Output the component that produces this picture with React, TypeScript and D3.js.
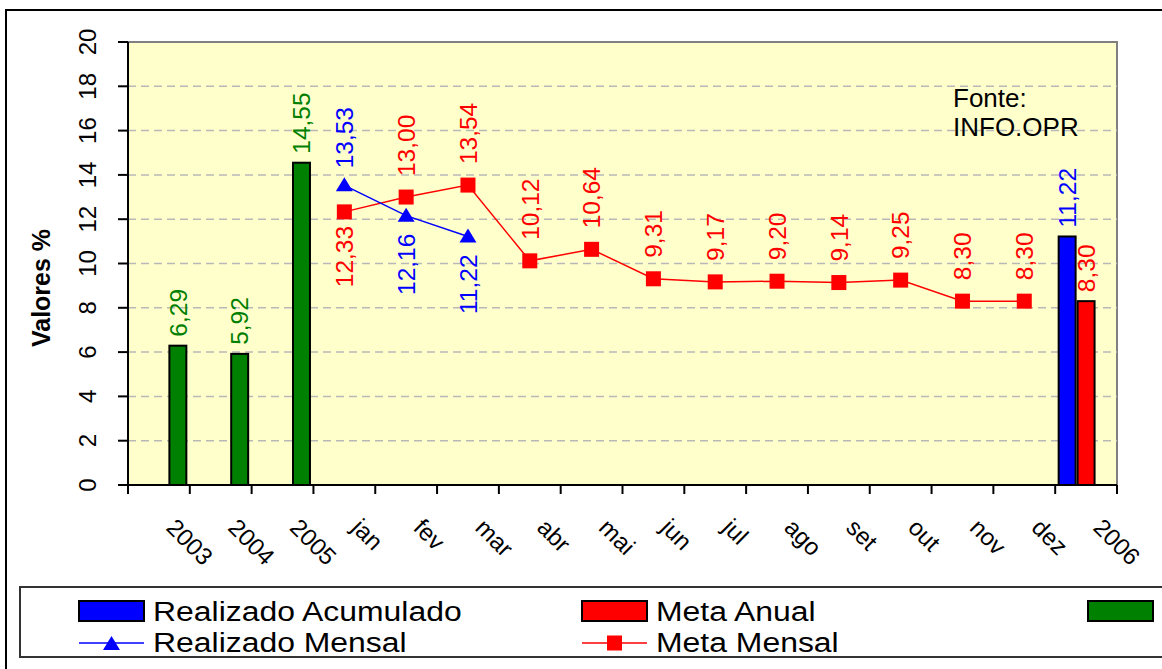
import React from "react";
import * as d3 from "d3";

const categories = ["2003", "2004", "2005", "jan", "fev", "mar", "abr", "mai", "jun", "jul", "ago", "set", "out", "nov", "dez", "2006"];
const yTicks = [0, 2, 4, 6, 8, 10, 12, 14, 16, 18, 20];

// Bar series
const realizadoAnualCats = ["2003", "2004", "2005"];
const realizadoAnual = [6.29, 5.92, 14.55];
const realizadoAcumuladoCats = ["2006"];
const realizadoAcumulado = [11.22];
const metaAnualCats = ["2006"];
const metaAnual = [8.3];

// Line series
const realizadoMensalCats = ["jan", "fev", "mar"];
const realizadoMensal = [13.53, 12.16, 11.22];
const realizadoMensalLabelPos = ["above", "below", "below"];
const metaMensalCats = ["jan", "fev", "mar", "abr", "mai", "jun", "jul", "ago", "set", "out", "nov", "dez"];
const metaMensal = [12.33, 13.0, 13.54, 10.12, 10.64, 9.31, 9.17, 9.2, 9.14, 9.25, 8.3, 8.3];
const metaMensalLabelPos = ["below", "above", "above", "above", "above", "above", "above", "above", "above", "above", "above", "above"];

const legendItems = ["Realizado Acumulado", "Meta Anual", "Realizado Anual", "Realizado Mensal", "Meta Mensal"];

const FONT = "'Liberation Sans', Arial, sans-serif";
const fmt = (v: number) => v.toFixed(2).replace(".", ",");

export default function App() {
  const left = 128, right = 1117, top = 42, bottom = 485;
  const x = d3.scaleBand<string>().domain(categories).range([left, right]).padding(0);
  const y = d3.scaleLinear().domain([0, 20]).range([bottom, top]);
  const inner = d3.scaleBand<string>().domain(["acum", "anual", "green"]).range([0, x.bandwidth()]).paddingInner(0).paddingOuter(0.13);
  const cx = (c: string) => (x(c) as number) + x.bandwidth() / 2;

  const lineGen = d3.line<[number, number]>().x((d) => d[0]).y((d) => d[1]);
  const rmPts: [number, number][] = realizadoMensalCats.map((c, i) => [cx(c), y(realizadoMensal[i])]);
  const mmPts: [number, number][] = metaMensalCats.map((c, i) => [cx(c), y(metaMensal[i])]);

  const bars: { c: string; v: number; s: string; color: string; lc: string }[] = [];
  realizadoAcumuladoCats.forEach((c, i) => bars.push({ c, v: realizadoAcumulado[i], s: "acum", color: "#0000FF", lc: "#0000FF" }));
  metaAnualCats.forEach((c, i) => bars.push({ c, v: metaAnual[i], s: "anual", color: "#FF0000", lc: "#FF0000" }));
  realizadoAnualCats.forEach((c, i) => bars.push({ c, v: realizadoAnual[i], s: "green", color: "#008000", lc: "#008000" }));

  const labelFs = 24.5;
  const capOff = 8.8;
  const tri = (px: number, py: number) => `M${px},${py - 8} L${px + 8.5},${py + 6} L${px - 8.5},${py + 6} Z`;
  const legText = (tx: number, ty: number, s: string) => (
    <text transform={`translate(${tx},${ty}) scale(1.14,1)`} fontSize={28} fill="#000">{s}</text>
  );

  return (
    <svg width={1162} height={669} style={{ position: "absolute", left: 0, top: 0, background: "#fff" }} fontFamily={FONT}>
      {/* outer frame */}
      <rect x={6} y={10} width={1170} height={680} fill="#fff" stroke="#000" strokeWidth={2} />
      {/* plot area */}
      <rect x={left} y={top} width={right - left} height={bottom - top} fill="#FFFFCC" stroke="#808080" strokeWidth={2} />
      {yTicks.filter((t) => t > 0 && t < 20).map((t) => (
        <line key={"g" + t} x1={left} x2={right} y1={y(t)} y2={y(t)} stroke="#B8B8B8" strokeWidth={1.5} strokeDasharray="8,5" />
      ))}
      {/* axes */}
      <line x1={left} x2={left} y1={top} y2={bottom} stroke="#000" strokeWidth={2} />
      <line x1={left} x2={right} y1={bottom} y2={bottom} stroke="#000" strokeWidth={2} />
      {yTicks.map((t) => (
        <g key={"yt" + t}>
          <line x1={left - 10} x2={left} y1={y(t)} y2={y(t)} stroke="#000" strokeWidth={2} />
          <text transform={`translate(96,${y(t)}) rotate(-90)`} textAnchor="middle" fontSize={24} fill="#000">{t}</text>
        </g>
      ))}
      {[...categories.map((c) => x(c) as number), right].map((px, i) => (
        <line key={"xt" + i} x1={px} x2={px} y1={bottom} y2={bottom + 9} stroke="#000" strokeWidth={2} />
      ))}
      {categories.map((c) => (
        <text key={"xl" + c} transform={`translate(${cx(c) + 6},529) rotate(45)`} fontSize={24} fill="#000">{c}</text>
      ))}
      <text transform="translate(50,288) rotate(-90)" textAnchor="middle" fontSize={25} fontWeight="bold" fill="#000">Valores %</text>

      {/* bars */}
      {bars.map((b, i) => {
        const bx = (x(b.c) as number) + (inner(b.s) as number);
        const w = inner.bandwidth();
        return (
          <g key={"b" + i}>
            <rect x={bx + 1} y={y(b.v)} width={w - 2} height={bottom - y(b.v)} fill={b.color} stroke="#000" strokeWidth={2} />
            <text transform={`translate(${bx + w / 2 + capOff},${y(b.v) - 9}) rotate(-90)`} fontSize={labelFs} fill={b.lc}>{fmt(b.v)}</text>
          </g>
        );
      })}

      {/* lines */}
      <path d={lineGen(mmPts) || ""} fill="none" stroke="#FF0000" strokeWidth={1.5} />
      <path d={lineGen(rmPts) || ""} fill="none" stroke="#0000FF" strokeWidth={1.5} />
      {mmPts.map((p, i) => (
        <rect key={"mm" + i} x={p[0] - 7.5} y={p[1] - 7.5} width={15} height={15} fill="#FF0000" />
      ))}
      {rmPts.map((p, i) => (
        <path key={"rm" + i} d={tri(p[0], p[1])} fill="#0000FF" />
      ))}
      {mmPts.map((p, i) => {
        const above = metaMensalLabelPos[i] === "above";
        return (
          <text key={"mml" + i} transform={`translate(${p[0] + capOff},${above ? p[1] - 21 : p[1] + 14}) rotate(-90)`} textAnchor={above ? "start" : "end"} fontSize={labelFs} fill="#FF0000">{fmt(metaMensal[i])}</text>
        );
      })}
      {rmPts.map((p, i) => {
        const above = realizadoMensalLabelPos[i] === "above";
        return (
          <text key={"rml" + i} transform={`translate(${p[0] + capOff},${above ? p[1] - 17 : p[1] + 18}) rotate(-90)`} textAnchor={above ? "start" : "end"} fontSize={labelFs} fill="#0000FF">{fmt(realizadoMensal[i])}</text>
        );
      })}

      {/* source */}
      <text x={953} y={107} fontSize={26} fill="#000">Fonte:</text>
      <text x={953} y={136} fontSize={26} fill="#000">INFO.OPR</text>

      {/* legend */}
      <rect x={20} y={587} width={1160} height={70} fill="#fff" stroke="#333" strokeWidth={2} />
      <rect x={79} y={601} width={65} height={20} fill="#0000FF" stroke="#000" strokeWidth={2} />
      {legText(153, 621, legendItems[0])}
      <rect x={582} y={601} width={65} height={20} fill="#FF0000" stroke="#000" strokeWidth={2} />
      {legText(656, 621, legendItems[1])}
      <rect x={1088} y={601} width={65} height={20} fill="#008000" stroke="#000" strokeWidth={2} />
      {legText(1161, 621, legendItems[2])}
      <line x1={79} x2={144} y1={643} y2={643} stroke="#0000FF" strokeWidth={1.5} />
      <path d={tri(111.5, 644)} fill="#0000FF" />
      {legText(153, 652, legendItems[3])}
      <line x1={582} x2={647} y1={643} y2={643} stroke="#FF0000" strokeWidth={1.5} />
      <rect x={607} y={635.5} width={15} height={15} fill="#FF0000" />
      {legText(656, 652, legendItems[4])}
    </svg>
  );
}
